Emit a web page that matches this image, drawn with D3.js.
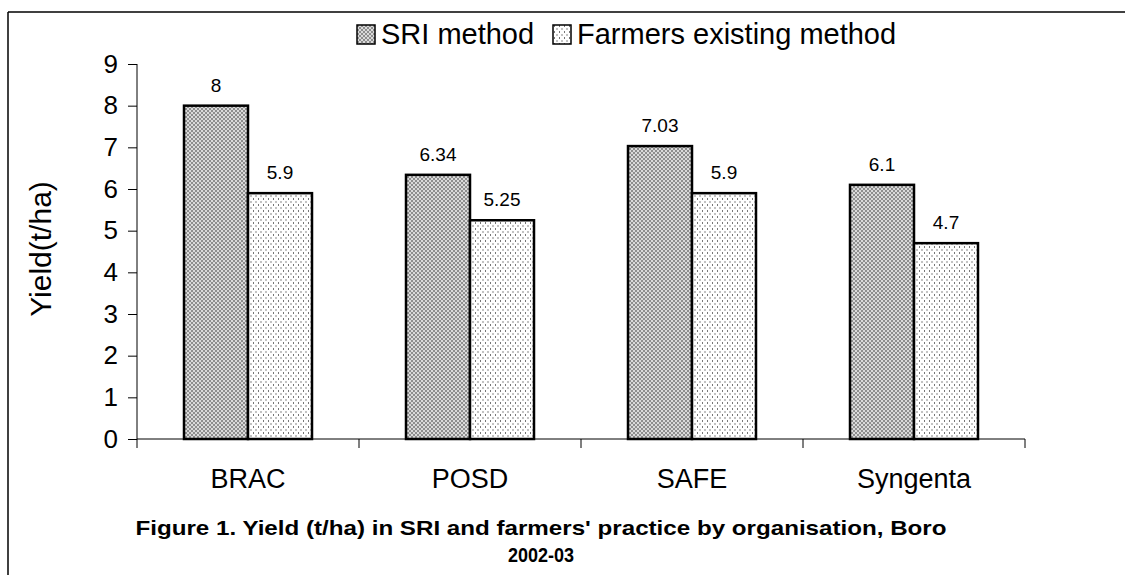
<!DOCTYPE html>
<html>
<head>
<meta charset="utf-8">
<script src="https://cdn.jsdelivr.net/npm/d3@7"></script>
<style>
  body { margin: 0; background: #fff; }
  svg { display: block; font-family: "Liberation Sans", Arial, sans-serif; }
</style>
</head>
<body>
<svg id="chart"></svg>
<script>
// Données
const organisations = ["BRAC", "POSD", "SAFE", "Syngenta"];
const sriValues = [8, 6.34, 7.03, 6.1];
const farmerValues = [5.9, 5.25, 5.9, 4.7];
const sriLabels = ["8", "6.34", "7.03", "6.1"];
const farmerLabels = ["5.9", "5.25", "5.9", "4.7"];
const seriesNames = ["SRI method", "Farmers existing method"];
const yTicks = [0, 1, 2, 3, 4, 5, 6, 7, 8, 9];

const width = 1125, height = 575;
const svg = d3.select("#chart").attr("width", width).attr("height", height);

// motifs de remplissage
const defs = svg.append("defs");
const pSri = defs.append("pattern").attr("id", "pSri")
  .attr("patternUnits", "userSpaceOnUse").attr("width", 4).attr("height", 4);
pSri.append("rect").attr("width", 4).attr("height", 4).attr("fill", "#dadada");
pSri.append("rect").attr("x", 0).attr("y", 0).attr("width", 2).attr("height", 2).attr("fill", "#8e8e8e");
pSri.append("rect").attr("x", 2).attr("y", 2).attr("width", 2).attr("height", 2).attr("fill", "#8e8e8e");

const pFarm = defs.append("pattern").attr("id", "pFarm")
  .attr("patternUnits", "userSpaceOnUse").attr("width", 5).attr("height", 6);
pFarm.append("rect").attr("width", 5).attr("height", 6).attr("fill", "#fff");
pFarm.append("rect").attr("x", 1).attr("y", 0).attr("width", 1).attr("height", 2).attr("fill", "#777");
pFarm.append("rect").attr("x", 3.5).attr("y", 3).attr("width", 1).attr("height", 2).attr("fill", "#888");

const fills = ["url(#pSri)", "url(#pFarm)"];

// cadre (haut et gauche)
svg.append("line").attr("x1", 8).attr("x2", width).attr("y1", 12).attr("y2", 12)
  .attr("stroke", "#000").attr("stroke-width", 1.5);
svg.append("line").attr("x1", 8).attr("x2", 8).attr("y1", 12).attr("y2", height)
  .attr("stroke", "#000").attr("stroke-width", 1.5);

// échelles
const x = d3.scaleBand().domain(organisations).range([137, 1025]);
const inner = d3.scaleBand().domain([0, 1]).range([47, 175]);
const y = d3.scaleLinear().domain([0, 9]).range([439, 64]);

// axes
const yAxis = svg.append("g").attr("transform", "translate(137,0)")
  .call(d3.axisLeft(y).tickValues(yTicks).tickSize(9).tickPadding(10).tickFormat(d3.format("d")));
yAxis.selectAll("text").attr("font-size", 26).attr("fill", "#000");
yAxis.select(".domain").attr("d", "M0,64V439");

const xAxis = svg.append("g");
xAxis.append("line").attr("x1", 137).attr("x2", 1025).attr("y1", 439).attr("y2", 439).attr("stroke", "#000");
xAxis.selectAll("line.tk").data(organisations.concat(["end"])).enter().append("line")
  .attr("class", "tk")
  .attr("x1", (d, i) => i < organisations.length ? x(d) : x.range()[1])
  .attr("x2", (d, i) => i < organisations.length ? x(d) : x.range()[1])
  .attr("y1", 439).attr("y2", 448).attr("stroke", "#000");
xAxis.selectAll("text").data(organisations).enter().append("text")
  .attr("x", d => x(d) + x.bandwidth() / 2).attr("y", 488)
  .attr("text-anchor", "middle").attr("font-size", 27).text(d => d);

// barres
const data = organisations.map((o, i) => ({ org: o, vals: [sriValues[i], farmerValues[i]], labels: [sriLabels[i], farmerLabels[i]] }));
const groups = svg.selectAll("g.grp").data(data).enter().append("g")
  .attr("class", "grp").attr("transform", d => `translate(${x(d.org)},0)`);
groups.selectAll("rect").data(d => d.vals.map((v, k) => ({ v, k, label: d.labels[k] })))
  .enter().append("rect")
  .attr("x", d => inner(d.k)).attr("width", inner.bandwidth())
  .attr("y", d => y(d.v)).attr("height", d => y(0) - y(d.v))
  .attr("fill", d => fills[d.k]).attr("stroke", "#000").attr("stroke-width", 2.5);
groups.selectAll("text").data(d => d.vals.map((v, k) => ({ v, k, label: d.labels[k] })))
  .enter().append("text")
  .attr("x", d => inner(d.k) + inner.bandwidth() / 2).attr("y", d => y(d.v) - 14)
  .attr("text-anchor", "middle").attr("font-size", 19).text(d => d.label);

// légende
const legendX = [357, 553];
const legend = svg.selectAll("g.leg").data(seriesNames).enter().append("g")
  .attr("class", "leg").attr("transform", (d, i) => `translate(${legendX[i]},25)`);
legend.append("rect").attr("width", 18).attr("height", 19)
  .attr("fill", (d, i) => fills[i]).attr("stroke", "#000").attr("stroke-width", 1.5);
legend.append("text").attr("x", 24).attr("y", 19).attr("font-size", 29).text(d => d);

// titre de l'axe Y
svg.append("text").attr("transform", "translate(51,249) rotate(-90)")
  .attr("text-anchor", "middle").attr("font-size", 30).text("Yield(t/ha)");

// légende de la figure
svg.append("text").attr("x", 541).attr("y", 535).attr("text-anchor", "middle")
  .attr("font-size", 21).attr("font-weight", "bold")
  .attr("textLength", 811).attr("lengthAdjust", "spacingAndGlyphs")
  .text("Figure 1. Yield (t/ha) in SRI and farmers' practice by organisation, Boro");
svg.append("text").attr("x", 541).attr("y", 562).attr("text-anchor", "middle")
  .attr("font-size", 20).attr("font-weight", "bold")
  .attr("textLength", 66).attr("lengthAdjust", "spacingAndGlyphs").text("2002-03");
</script>
</body>
</html>
